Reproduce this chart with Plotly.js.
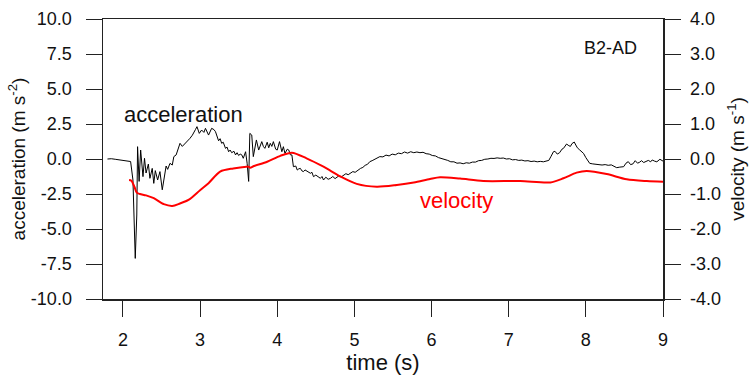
<!DOCTYPE html>
<html><head><meta charset="utf-8">
<script src="https://cdn.plot.ly/plotly-3.0.1.min.js"></script>
<style>html,body{margin:0;padding:0;background:#fff}#c{width:752px;height:376px}</style>
</head><body><div id="c"></div>
<script>
const accTime = [1.80,1.85,1.90,1.95,2.00,2.05,2.10,2.13,2.16,2.18,2.19,2.21,2.23,2.26,2.28,2.30,2.33,2.35,2.38,2.40,2.42,2.45,2.48,2.51,2.54,2.56,2.58,2.61,2.64,2.66,2.69,2.72,2.74,2.77,2.81,2.84,2.87,2.90,2.92,2.94,2.96,2.99,3.02,3.05,3.07,3.11,3.15,3.18,3.20,3.22,3.24,3.26,3.28,3.30,3.33,3.35,3.37,3.39,3.41,3.44,3.46,3.48,3.50,3.52,3.54,3.56,3.59,3.61,3.63,3.645,3.67,3.69,3.71,3.73,3.76,3.78,3.80,3.82,3.84,3.87,3.89,3.91,3.93,3.95,3.98,4.00,4.03,4.06,4.08,4.10,4.13,4.15,4.17,4.19,4.21,4.24,4.26,4.28,4.30,4.32,4.34,4.36,4.38,4.41,4.43,4.45,4.47,4.50,4.53,4.56,4.58,4.60,4.63,4.66,4.69,4.72,4.75,4.77,4.80,4.83,4.86,4.89,4.92,4.95,4.98,5.01,5.04,5.08,5.11,5.14,5.17,5.20,5.23,5.27,5.30,5.33,5.37,5.41,5.45,5.49,5.53,5.57,5.61,5.65,5.69,5.73,5.77,5.81,5.85,5.89,5.93,5.97,6.01,6.05,6.09,6.13,6.17,6.21,6.25,6.29,6.33,6.37,6.41,6.45,6.49,6.53,6.57,6.61,6.65,6.69,6.73,6.77,6.81,6.85,6.89,6.93,6.97,7.01,7.05,7.09,7.13,7.17,7.21,7.25,7.29,7.33,7.37,7.41,7.45,7.49,7.52,7.55,7.58,7.60,7.63,7.66,7.69,7.71,7.73,7.75,7.78,7.80,7.82,7.85,7.87,7.89,7.92,7.95,7.97,8.00,8.03,8.05,8.09,8.13,8.17,8.21,8.25,8.29,8.33,8.37,8.40,8.44,8.49,8.52,8.55,8.58,8.61,8.64,8.67,8.70,8.72,8.75,8.78,8.81,8.84,8.86,8.89,8.92,8.96,9.00];
const accValue = [0.00,0.02,-0.02,-0.05,-0.08,-0.10,-0.18,-1.5,-7.1,-4.0,0.88,-1.6,0.64,-1.26,0.05,-1.0,-0.36,-1.38,-0.67,-1.74,-0.83,-1.5,-0.9,-2.2,-1.0,-0.5,-0.74,-0.31,-0.43,0.17,0.29,0.76,1.12,0.9,1.12,1.3,1.48,1.7,1.95,2.1,2.31,1.83,2.07,1.9,2.19,1.71,2.19,2.1,1.95,1.6,1.3,1.45,1.12,1.2,0.76,0.85,0.52,0.64,0.45,0.55,0.29,0.45,0.25,0.35,0.3,0.05,0.52,-0.31,-1.6,1.83,1.71,0.17,0.9,1.36,0.64,1.0,1.24,0.9,0.76,1.2,0.8,1.12,0.9,1.24,0.7,0.64,1.24,0.52,0.88,0.4,0.7,0.64,0.3,0.29,-0.55,-0.5,-0.79,-0.7,-0.67,-0.85,-0.9,-0.78,-0.85,-0.95,-1.02,-0.95,-1.26,-1.15,-1.3,-1.38,-1.25,-1.5,-1.3,-1.45,-1.38,-1.25,-1.4,-1.31,-1.2,-1.28,-1.14,-1.05,-1.12,-0.98,-0.9,-0.95,-0.8,-0.67,-0.6,-0.45,-0.38,-0.19,-0.12,0.0,0.08,0.17,0.15,0.28,0.22,0.35,0.3,0.42,0.38,0.5,0.42,0.52,0.45,0.5,0.45,0.48,0.38,0.35,0.25,0.22,0.1,0.05,-0.05,-0.1,-0.2,-0.2,-0.3,-0.28,-0.34,-0.27,-0.3,-0.22,-0.22,-0.12,-0.1,-0.02,0.0,0.05,0.04,0.08,0.05,0.07,0.0,0.02,-0.06,-0.04,-0.1,-0.08,-0.14,-0.12,-0.18,-0.15,-0.2,-0.17,-0.2,-0.15,-0.1,0.2,0.52,0.55,0.35,0.45,0.7,0.76,0.9,1.07,0.95,0.9,1.1,1.21,1.0,0.8,0.65,0.5,0.4,0.1,-0.2,-0.31,-0.35,-0.38,-0.4,-0.43,-0.4,-0.45,-0.42,-0.55,-0.62,-0.58,-0.55,-0.3,-0.19,-0.4,-0.35,-0.12,-0.3,-0.22,-0.12,-0.25,-0.18,-0.1,-0.2,-0.07,-0.15,-0.2,-0.02,-0.15];

const velTime = [2.08,2.11,2.15,2.18,2.22,2.30,2.40,2.53,2.64,2.74,2.85,3.00,3.11,3.26,3.43,3.60,3.63,3.65,3.70,3.87,4.04,4.19,4.38,4.60,4.82,5.03,5.29,5.55,5.77,5.98,6.11,6.37,6.67,7.15,7.54,7.71,7.88,8.01,8.27,8.53,8.79,9.00];
const velValue = [-0.60,-0.62,-0.80,-0.96,-1.00,-1.04,-1.12,-1.29,-1.34,-1.27,-1.17,-0.89,-0.69,-0.36,-0.27,-0.22,-0.22,-0.25,-0.20,-0.08,0.09,0.18,0.02,-0.22,-0.50,-0.71,-0.79,-0.74,-0.67,-0.57,-0.52,-0.56,-0.63,-0.63,-0.67,-0.55,-0.39,-0.34,-0.43,-0.58,-0.63,-0.65];

const xTicks = [2,3,4,5,6,7,8,9];
const accTicks = [10,7.5,5,2.5,0,-2.5,-5,-7.5,-10];
const accTickText = ["10.0","7.5","5.0","2.5","0.0","-2.5","-5.0","-7.5","-10.0"];
const velTicks = [4,3,2,1,0,-1,-2,-3,-4];
const velTickText = ["4.0","3.0","2.0","1.0","0.0","-1.0","-2.0","-3.0","-4.0"];

const FONT = 'Liberation Sans, Arial, sans-serif';
const LC = '#222';
const traces = [
  {x: accTime, y: accValue, type:'scatter', mode:'lines', line:{color:'#000', width:1}, yaxis:'y', hoverinfo:'skip'},
  {x: velTime, y: velValue, type:'scatter', mode:'lines', line:{color:'#ff0000', width:2, shape:'spline', smoothing:0.8}, yaxis:'y2', hoverinfo:'skip'}
];
const layout = {
  width:752, height:376,
  margin:{l:103, r:89, t:19, b:77},
  paper_bgcolor:'#fff', plot_bgcolor:'#fff',
  showlegend:false,
  font:{family:FONT, color:'#111', size:17},
  xaxis:{range:[1.742,9], tickvals:xTicks, ticktext:xTicks.map(String), ticks:'outside', ticklen:16, tickwidth:1, tickcolor:LC,
    showline:true, linecolor:LC, linewidth:1.5, mirror:true, showgrid:false, zeroline:false,
    ticklabelstandoff:8, tickfont:{size:18},
    title:{text:'time (s)', font:{size:22}, standoff:1}},
  yaxis:{range:[-10,10], tickvals:accTicks, ticktext:accTickText, ticks:'outside', ticklen:16, tickwidth:1, tickcolor:LC,
    showline:true, linecolor:LC, linewidth:1.5, showgrid:false, zeroline:false,
    ticklabelstandoff:10, tickfont:{size:18},
    title:{text:'acceleration (m s<sup>-2</sup>)', font:{size:19}, standoff:0}},
  yaxis2:{range:[-4,4], tickvals:velTicks, ticktext:velTickText, overlaying:'y', side:'right', ticks:'outside', ticklen:16, tickwidth:1, tickcolor:LC,
    showline:true, linecolor:LC, linewidth:1.5, showgrid:false, zeroline:false,
    ticklabelstandoff:6, tickfont:{size:18},
    title:{text:'velocity (m s<sup>-1</sup>)', font:{size:19}, standoff:10}},
  annotations:[
    {text:'B2-AD', xref:'x', yref:'y', x:8.32, y:7.93, showarrow:false, font:{size:18, color:'#111'}, xanchor:'center', yanchor:'middle'},
    {text:'acceleration', xref:'x', yref:'y', x:2.79, y:3.2, showarrow:false, font:{size:22, color:'#111'}, xanchor:'center', yanchor:'middle'},
    {text:'velocity', xref:'x', yref:'y', x:6.33, y:-2.93, showarrow:false, font:{size:22, color:'#ff0000'}, xanchor:'center', yanchor:'middle'}
  ]
};
Plotly.newPlot('c', traces, layout, {staticPlot:true, displayModeBar:false});
</script></body></html>
